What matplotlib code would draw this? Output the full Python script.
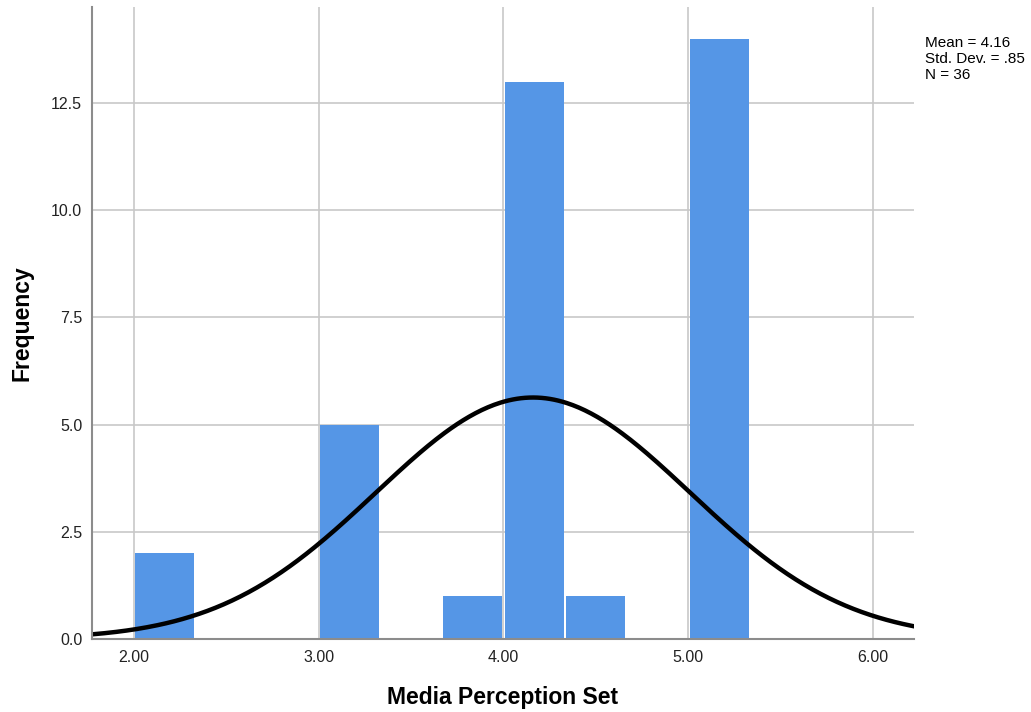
import numpy as np
import matplotlib
matplotlib.use("Agg")
import matplotlib.pyplot as plt

# bin edges (left) and counts
bin_left = [2.00, 3.00, 3.6667, 4.00, 4.3333, 5.00]
counts = [2, 5, 1, 13, 1, 14]
bin_width = 1.0 / 3.0

mean_val = 4.16
std_val = 0.85
n_obs = 36

x_ticks = [2.0, 3.0, 4.0, 5.0, 6.0]
y_ticks = [0.0, 2.5, 5.0, 7.5, 10.0, 12.5]

plt.rcParams['font.family'] = ['Liberation Sans', 'DejaVu Sans']

fig = plt.figure(figsize=(10.31, 7.12), dpi=100)
ax = fig.add_axes([0.0892, 0.1025, 0.7973, 0.8877])

ax.set_axisbelow(True)
ax.grid(True, color='#c8c8c8', linewidth=1.2)

# small gap between bars like SPSS draws them
gap = 0.014
ax.bar([b + gap / 2 for b in bin_left], counts, width=bin_width - gap, align='edge',
       color='#5596e6', edgecolor='none', linewidth=0, zorder=2)

# normal curve scaled to the histogram
xs = np.linspace(1.77, 6.23, 400)
ys = n_obs * bin_width / (std_val * np.sqrt(2 * np.pi)) * np.exp(-0.5 * ((xs - mean_val) / std_val) ** 2)
ax.plot(xs, ys, color='black', linewidth=3.2, zorder=3, solid_capstyle='butt')

ax.set_xlim(1.7727, 6.222)
ax.set_ylim(0, 14.74)
ax.set_xticks(x_ticks)
ax.set_xticklabels([f"{v:.2f}" for v in x_ticks])
ax.set_yticks(y_ticks)
ax.set_yticklabels([f"{v:.1f}" for v in y_ticks])
ax.tick_params(axis='x', length=0, labelsize=11.5, colors='#222222', pad=8)
ax.tick_params(axis='y', length=0, labelsize=11.5, colors='#222222', pad=7)

for s in ['top', 'right']:
    ax.spines[s].set_visible(False)
for s in ['left', 'bottom']:
    ax.spines[s].set_color('#8c8c8c')
    ax.spines[s].set_linewidth(1.5)
    ax.spines[s].set_zorder(4)

ax.set_xlabel('Media Perception Set', fontsize=16.5, fontweight='bold', labelpad=15)
ax.set_ylabel('Frequency', fontsize=16.5, fontweight='bold', labelpad=13)

fig.text(0.897, 0.95, f"Mean = {mean_val:.2f}\nStd. Dev. = .85\nN = {n_obs}",
         fontsize=11, va='top', ha='left', linespacing=1.2)

fig.savefig('out.png', dpi=100)
